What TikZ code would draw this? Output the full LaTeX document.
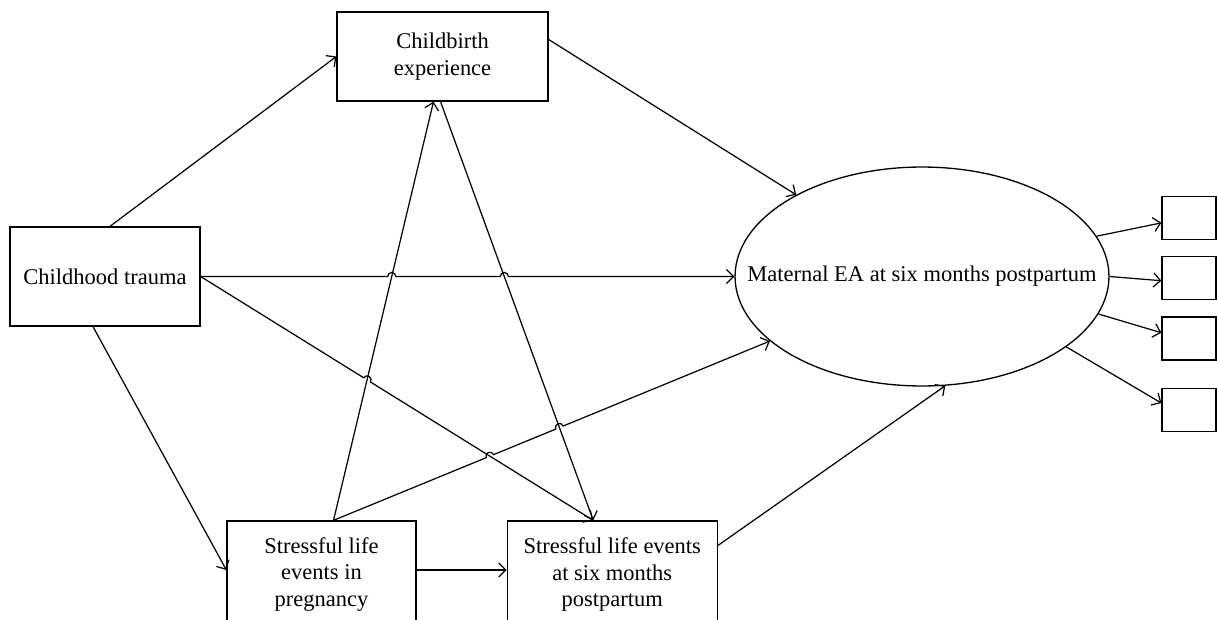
\documentclass[tikz,border=0pt]{standalone}
\usepackage{fontspec}
\setmainfont{Liberation Serif}
\usepackage{tikz}
\usetikzlibrary{positioning}
\usetikzlibrary{calc}
\usetikzlibrary{shapes.geometric}
\usetikzlibrary{arrows.meta}
\newcommand{\hoprad}{2.3pt}

\begin{document}
\begin{tikzpicture}[x=0.02cm,y=-0.02cm,align=center,every node/.style={inner sep=0pt,line width=0.75pt,font=\fontsize{12.8}{15.3}\selectfont},
    box/.style={draw,rectangle},
    ind/.style={draw,rectangle,minimum width=1.08cm,minimum height=0.86cm},
    arr/.style={line width=0.7pt,-{Straight Barb[length=4pt,width=8pt]}}]
    \path[use as bounding box] (0,0) rectangle (1217,619);
    \clip (0,0) rectangle (1217,619);
    \node[box,minimum width=3.8cm,minimum height=1.98cm] (ct) at (105,276.5) {Childhood trauma};
    \node[box,minimum width=4.22cm,minimum height=1.78cm] (cb) at (442.5,56.5) {Childbirth\\experience};
    \node[box,minimum width=3.78cm,minimum height=2.14cm] (slep) at (321.5,574.5) {Stressful life\\events in\\pregnancy};
    \node[box,minimum width=4.2cm,minimum height=2.14cm,right=1.8cm of slep] (sle6) {Stressful life events\\at six months\\postpartum};
    \node[draw,ellipse,minimum width=7.48cm,minimum height=4.38cm] (ea) at (922,276.5) {\makebox[0pt]{Maternal EA at six months postpartum}};
    \node[ind] (i1) at (1189,218) {};
    \node[ind,below=0.32cm of i1] (i2) {};
    \node[ind,below=0.32cm of i2] (i3) {};
    \node[ind,below=0.54cm of i3] (i4) {};
    % connector ends off the anchors
    \coordinate (ctup) at ($(ct.north)+(5,0)$);
    \coordinate (ctdown) at ($(ct.south)+(-12,0)$);
    \coordinate (cbright) at ($(cb.east)+(0,-17)$);
    \coordinate (cbin) at ($(cb.south)+(-9,0)$);
    \coordinate (cbout) at ($(cb.south)+(-2,0)$);
    \coordinate (slepup) at ($(slep.north)+(12,0)$);
    \coordinate (slepright) at ($(slep.east)+(0,-4.5)$);
    \coordinate (sle6left) at ($(sle6.west)+(0,-4.5)$);
    \coordinate (sle6in) at ($(sle6.north)+(-19,0)$);
    \coordinate (sle6out) at ($(sle6.east)+(0,-29)$);
    \coordinate (eain) at (ea.203);
    % crossings with a hop
    \coordinate (h1) at (intersection of ct.east--ea.west and slepup--cbin);
    \coordinate (h2) at (intersection of ct.east--ea.west and cbout--sle6in);
    \coordinate (h3) at (intersection of ct.east--sle6in and slepup--cbin);
    \coordinate (h4) at (intersection of slepup--eain and ct.east--sle6in);
    \coordinate (h5) at (intersection of slepup--eain and cbout--sle6in);
    \draw[arr] (ctup) -- (cb.west);
    \draw[arr] (ctdown) -- ($(slep.west)+(0,-4.5)$);
    \draw[arr] let \p1=($(ea.west)-(ct.east)$), \n1={atan2(\y1,\x1)} in
        (ct.east) -- ($(h1)!\hoprad!(ct.east)$) arc[start angle=\n1+180,end angle=\n1,radius=\hoprad]
        -- ($(h2)!\hoprad!(ct.east)$) arc[start angle=\n1+180,end angle=\n1,radius=\hoprad] -- (ea.west);
    \draw[arr] let \p1=($(sle6in)-(ct.east)$), \n1={atan2(\y1,\x1)} in
        (ct.east) -- ($(h3)!\hoprad!(ct.east)$) arc[start angle=\n1+180,end angle=\n1,radius=\hoprad] -- (sle6in);
    \draw[arr] let \p1=($(eain)-(slepup)$), \n1={atan2(\y1,\x1)} in
        (slepup) -- ($(h4)!\hoprad!(slepup)$) arc[start angle=\n1+180,end angle=\n1,radius=\hoprad]
        -- ($(h5)!\hoprad!(slepup)$) arc[start angle=\n1+180,end angle=\n1,radius=\hoprad] -- (eain);
    \draw[arr] (slepup) -- (cbin);
    \draw[arr] (cbout) -- (sle6in);
    \draw[arr] (slepright) -- (sle6left);
    \draw[arr] (sle6out) -- (ea.282);
    \draw[arr] (cbright) -- (ea.147);
    \draw[arr] (ea.13) -- (i1.190);
    \draw[arr] (ea.east) -- (i2.185);
    \draw[arr] (ea.348) -- (i3.168);
    \draw[arr] (ea.334) -- (i4.166);
\end{tikzpicture}
\end{document}
